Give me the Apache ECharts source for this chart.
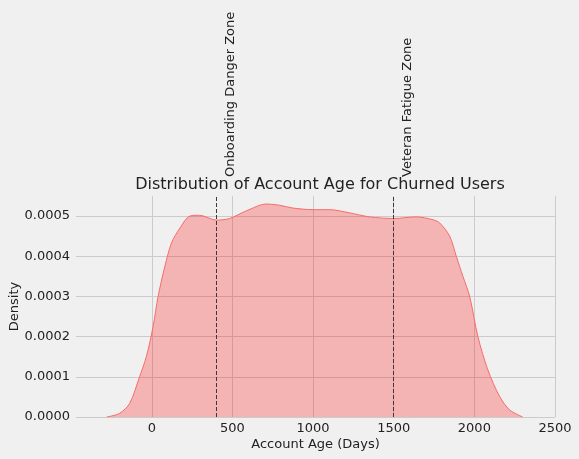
<!DOCTYPE html>
<html>
<head>
<meta charset="utf-8">
<script src="https://cdn.jsdelivr.net/npm/echarts@6/dist/echarts.min.js"></script>
<style>
  html, body { margin: 0; padding: 0; background: #f0f0f0; }
  #chart { width: 579px; height: 459px; }
</style>
</head>
<body>
<div id="chart"></div>
<script>
// KDE curve (days -> density)
const ageDays = [-280, -200, -137, -76, -34, 8, 39, 81, 122, 174, 236, 296, 400, 482, 586, 710, 792, 875, 1000, 1103, 1227, 1351, 1500, 1640, 1743, 1785, 1847, 1888, 1929, 1971, 2022, 2084, 2157, 2219, 2300];
const density = [0, 0.000009, 0.000034, 0.0001, 0.00015, 0.000225, 0.0003, 0.000375, 0.000433, 0.00047, 0.0005, 0.000502, 0.00049, 0.000494, 0.000513, 0.00053, 0.000527, 0.00052, 0.000516, 0.000516, 0.000508, 0.000498, 0.000494, 0.000498, 0.000491, 0.000483, 0.00045, 0.0004, 0.00035, 0.0003, 0.0002, 0.000117, 0.000051, 0.0000175, 0];
const zoneDays = [400, 1500];
const zoneLabels = ['Onboarding Danger Zone', 'Veteran Fatigue Zone'];

const font = 'DejaVu Sans';
const chart = echarts.init(document.getElementById('chart'));

const option = {
  backgroundColor: '#f0f0f0',
  animation: false,
  title: {
    text: 'Distribution of Account Age for Churned Users',
    left: 315,
    top: 172,
    textAlign: 'center',
    textStyle: { fontFamily: font, fontSize: 16, fontWeight: 'normal', color: '#222' },
  },
  grid: { left: 76, right: 24, top: 196, bottom: 42, containLabel: false, outerBoundsMode: 'none' },
  xAxis: {
    type: 'value',
    min: -470,
    max: 2500,
    name: 'Account Age (Days)',
    nameLocation: 'middle',
    nameGap: 21,
    nameMoveOverlap: false,
    nameTextStyle: { fontFamily: font, fontSize: 13, color: '#222' },
    axisLine: { show: false },
    axisTick: { show: false },
    axisLabel: {
      showMinLabel: false,
      margin: 5,
      fontFamily: font,
      fontSize: 13,
      color: '#222',
      formatter: (v) => String(v),
    },
    splitLine: { show: true, showMinLine: false, lineStyle: { color: '#cbcbcb', width: 1 } },
  },
  yAxis: {
    type: 'value',
    min: 0,
    max: 0.00055,
    interval: 0.0001,
    name: 'Density',
    nameLocation: 'middle',
    nameRotate: 90,
    nameGap: 55,
    nameMoveOverlap: false,
    nameTextStyle: { fontFamily: font, fontSize: 13, color: '#222' },
    axisLine: { show: false },
    axisTick: { show: false },
    axisLabel: {
      showMaxLabel: false,
      margin: 6,
      fontFamily: font,
      fontSize: 13,
      color: '#222',
      formatter: (v) => v.toFixed(4),
    },
    splitLine: { show: true, showMaxLine: false, lineStyle: { color: '#cbcbcb', width: 1 } },
  },
  series: [
    {
      type: 'line',
      data: ageDays.map((d, i) => [d, density[i]]),
      smooth: 0.3,
      symbol: 'none',
      lineStyle: { color: '#f86a6a', width: 1 },
      areaStyle: { color: 'rgba(255,0,0,0.25)', opacity: 1, origin: 'start' },
      markLine: {
        silent: true,
        symbol: 'none',
        label: { show: false },
        lineStyle: { color: '#3a3a3a', width: 1, type: [4, 2] },
        data: zoneDays.map((d) => ({ xAxis: d })),
      },
    },
  ],
};
chart.setOption(option);

// rotated zone labels placed from the axis scale
const topY = chart.convertToPixel({ yAxisIndex: 0 }, 0.00055);
chart.setOption({
  graphic: zoneDays.map((d, i) => ({
    type: 'text',
    x: chart.convertToPixel({ xAxisIndex: 0 }, d) + 14,
    y: topY - 19,
    rotation: Math.PI / 2,
    style: {
      text: zoneLabels[i],
      fontFamily: font,
      fontSize: 13,
      fill: '#222',
      textAlign: 'left',
      textVerticalAlign: 'middle',
    },
  })),
});
</script>
</body>
</html>
